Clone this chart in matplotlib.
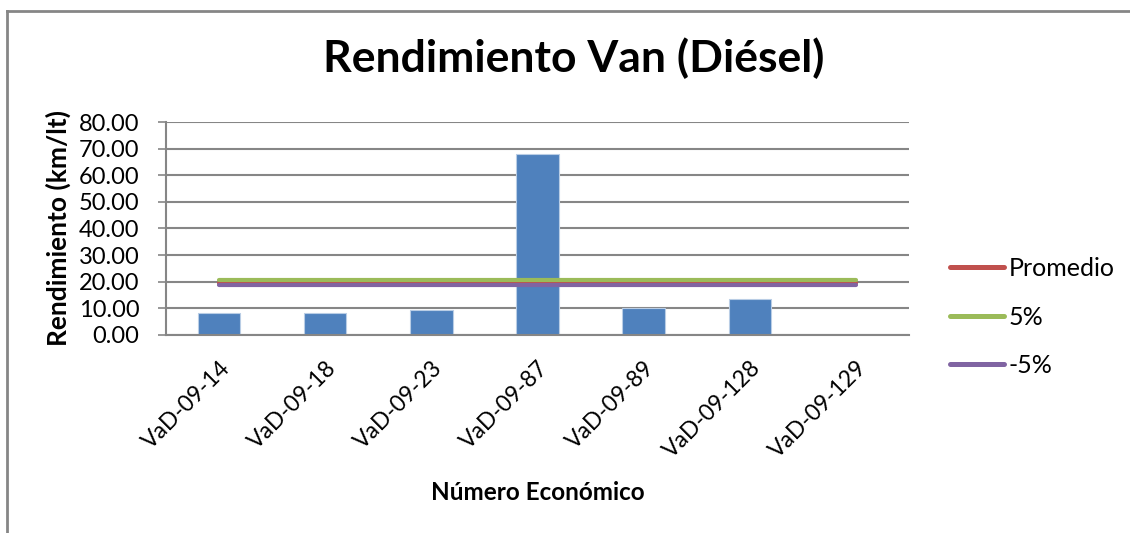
import numpy as np
import matplotlib
matplotlib.use("Agg")
import matplotlib.pyplot as plt
from matplotlib.lines import Line2D

plt.rcParams['font.family'] = ['Lato', 'DejaVu Sans']

# datos
categorias = ['VaD-09-14', 'VaD-09-18', 'VaD-09-23', 'VaD-09-87',
              'VaD-09-89', 'VaD-09-128', 'VaD-09-129']
rendimiento = [8.15, 8.15, 9.4, 67.9, 10.3, 13.4, 0.0]
promedio = [19.55] * 7
mas5 = [20.5] * 7
menos5 = [18.6] * 7
yticks = [0, 10, 20, 30, 40, 50, 60, 70, 80]

gris = '#868686'

fig = plt.figure(figsize=(11.3, 5.33), dpi=100)
ax = fig.add_axes([0.1469, 0.3715, 0.6575, 0.3996])

x = np.arange(len(categorias))
ax.bar(x, rendimiento, width=0.4, color='#4F81BD', edgecolor='#B9CDE5',
       linewidth=0.8, zorder=2)
ax.plot(x, promedio, color='#C0504D', lw=3.0, solid_capstyle='round', zorder=3, label='Promedio')
ax.plot(x, mas5, color='#9BBB59', lw=3.0, solid_capstyle='round', zorder=3, label='5%')
ax.plot(x, menos5, color='#8064A2', lw=3.0, solid_capstyle='round', zorder=3, label='-5%')

ax.set_xlim(-0.5, len(categorias) - 0.5)
ax.set_ylim(0, 80)
ax.set_yticks(yticks)
ax.set_yticklabels(['%.2f' % v for v in yticks], fontsize=17)
ax.yaxis.grid(True, color=gris, lw=1.5, zorder=0)
ax.tick_params(axis='y', length=6, width=1.2, color=gris, pad=13)
ax.tick_params(axis='x', length=0, pad=16)
ax.set_xticks(x)
ax.set_xticklabels(categorias, rotation=45, ha='right', rotation_mode='anchor', fontsize=16.5)

for s in ['top', 'right']:
    ax.spines[s].set_visible(False)
for s in ['left', 'bottom']:
    ax.spines[s].set_color(gris)
    ax.spines[s].set_linewidth(1.5)

fig.text(0.0513, 0.5713, 'Rendimiento (km/lt)', fontsize=19, fontweight='bold',
         rotation=90, ha='center', va='center')
fig.text(0.4757, 0.062, 'Número Económico', fontsize=17.5, fontweight='bold',
         ha='center', va='baseline')
fig.text(0.508, 0.865, 'Rendimiento Van (Diésel)', fontsize=32, fontweight='bold',
         ha='center', va='baseline')

h, l = ax.get_legend_handles_labels()
leg = fig.legend(h, l, loc='upper left', bbox_to_anchor=(0.8407, 0.5178), frameon=False,
                 fontsize=18, handlelength=2.16, handletextpad=0.2, labelspacing=1.02,
                 borderpad=0, borderaxespad=0)
for ln in leg.get_lines():
    ln.set_linewidth(3.6)

# borde del area del grafico
fig.add_artist(Line2D([0.0066, 0.0066], [0, 0.979], color=gris, lw=2))
fig.add_artist(Line2D([0.0066, 1.0], [0.979, 0.979], color=gris, lw=2))

fig.savefig('out.png', dpi=100)
